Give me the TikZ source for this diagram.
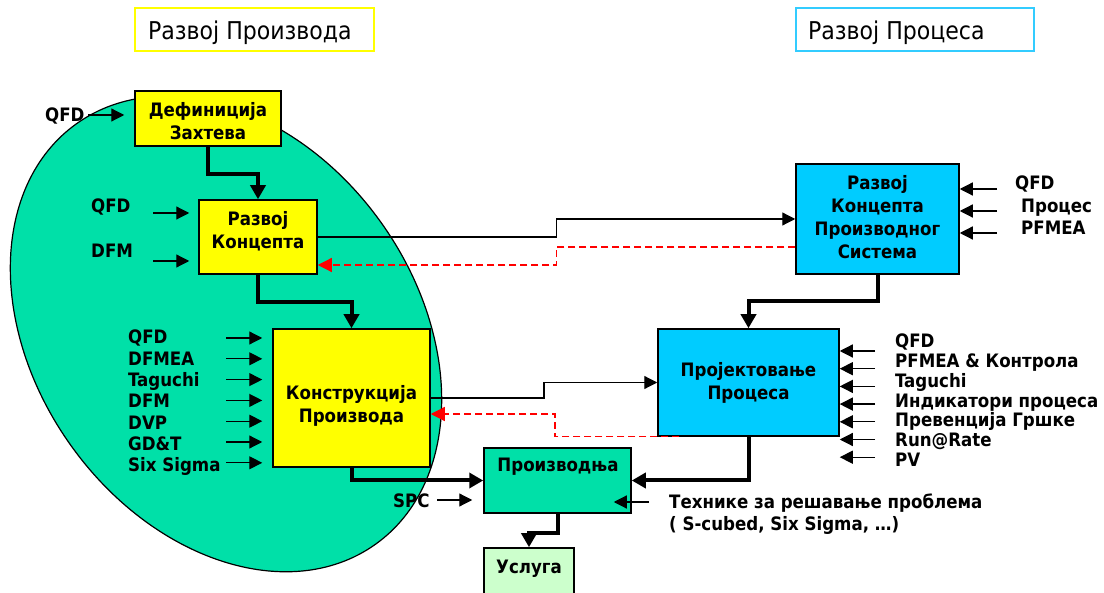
\documentclass[tikz,border=0pt]{standalone}
\usepackage{fontspec}
\setmainfont{DejaVu Sans Condensed}
\usetikzlibrary{arrows.meta,calc}
\definecolor{boxyellow}{RGB}{255,255,0}
\definecolor{procblue}{RGB}{0,204,255}
\definecolor{titleblue}{RGB}{51,204,255}
\definecolor{prodgreen}{RGB}{0,224,168}
\definecolor{servgreen}{RGB}{204,255,204}
\definecolor{dashred}{RGB}{255,0,0}

\begin{document}
\begin{tikzpicture}[x=1pt,y=-1pt,
  lbl/.style={font=\fontsize{18.5}{22}\selectfont\bfseries, inner sep=0pt, anchor=base west},
  boxtxt/.style={font=\fontsize{18.5}{23}\selectfont\bfseries, align=center, inner sep=0pt},
  titletxt/.style={font=\fontsize{24.5}{28}\selectfont, inner sep=0pt, anchor=base west},
  stage/.style={draw=black, line width=1.5pt, inner sep=0pt},
  titlebox/.style={line width=1.5pt, fill=white, inner sep=0pt, minimum height=43pt},
  thickarrow/.style={line width=4pt, -{Triangle[length=14pt,width=15pt]}},
  conn/.style={line width=1.2pt, -{Triangle[length=13pt,width=13pt]}},
  inarrow/.style={line width=1.2pt, -{Triangle[length=13pt,width=13pt]}},
  feedback/.style={draw=dashred, line width=1.2pt, dash pattern=on 7pt off 4pt,
    -{Triangle[length=14pt,width=14pt]}},
]
\useasboundingbox (0,0) rectangle (1104,593);
\clip (0,0) rectangle (1104,593);
\fill[white] (0,0) rectangle (1104,593);

% product development zone
\draw[fill=prodgreen, line width=1.2pt, rotate around={-54.7:(226,334)}]
  (226,334) ellipse [x radius=258pt, y radius=191pt];

% headings
\node[titlebox, draw=boxyellow, minimum width=239pt] (t1) at (254.5,29.5) {};
\node[titletxt] (t1t) at (148,40) {Развој Производа};
\node[titlebox, draw=titleblue, minimum width=238pt] (t2) at (915,29.5) {};
\node[titletxt] (t2t) at (808,40) {Развој Процеса};

% stage boxes
\node[stage, fill=boxyellow, minimum width=146pt, minimum height=55pt] (def) at (208,118.5) {};
\node[stage, fill=boxyellow, minimum width=118pt, minimum height=74pt] (rk) at (258,237) {};
\node[stage, fill=boxyellow, minimum width=157pt, minimum height=138pt] (kon) at (351.5,398) {};
\node[stage, fill=prodgreen, minimum width=147pt, minimum height=65pt] (pro) at (557.5,480.5) {};
\node[stage, fill=servgreen, minimum width=90pt, minimum height=62pt] (usl) at (529,579) {};
\node[stage, fill=procblue, minimum width=163pt, minimum height=110pt] (rkps) at (877.5,219) {};
\node[stage, fill=procblue, minimum width=181pt, minimum height=107pt] (proj) at (748.5,382.5) {};

\node[boxtxt] (deft) at (208,121) {Дефиниција\\Захтева};
\node[boxtxt] (rkt) at (258,231.5) {Развој\\Концепта};
\node[boxtxt] (kont) at (351.5,405.5) {Конструкција\\Производа};
\node[boxtxt] (rkpst) at (877.5,217.5) {Развој\\Концепта\\Производног\\Система};
\node[boxtxt] (projt) at (748.5,382.5) {Пројектовање\\Процеса};
\node[boxtxt] (prot) at (558,467) {Производња};
\node[boxtxt] (uslt) at (529,569) {Услуга};

% main flow
\draw[thickarrow] (def.south) -- ++(0,27) -| (rk.north);
\draw[thickarrow] (rk.south) -- ++(0,27) -| (kon.north);
\draw[thickarrow] (kon.south) |- (pro.west);
\draw[thickarrow] (rkps.south) -- ++(0,26) -| (proj.north);
\draw[thickarrow] (proj.south) |- (pro.east);
\draw[thickarrow] (pro.south) -- ++(0,19) -| (usl.north);

% links between product and process development
\draw[conn] (rk.east) -| ($(rk.east)!0.5!(rkps.west)$) |- (rkps.west);
\coordinate (rkin) at ($(rk.east)+(0,28)$);
\coordinate (rkpsout) at ($(rkps.west)+(0,28)$);
\draw[feedback] (rkpsout) -| ($(rkin)!0.5!(rkpsout)$) |- (rkin);

\draw[conn] (kon.east) -| ($(kon.east)!0.5!(proj.west)$) |- (proj.west);
\coordinate (konin) at ($(kon.east)+(0,16)$);
\coordinate (projout) at ($(proj.south west)+(22,0)$);
\draw[feedback] (projout) -| ($(konin)!0.5!(projout)$) |- (konin);

% inputs: requirements definition
\node[lbl] (q0) at (45,122) {QFD};
\coordinate (q0a) at (88,115);
\draw[inarrow] (q0a) -- ($(q0a -| def.west)+(-10,0)$);

% inputs: concept development
\node[lbl] (q1) at (91,213) {QFD};
\node[lbl] (d1) at (91,258) {DFM};
\coordinate (q1a) at (153,213);
\coordinate (d1a) at (153,261);
\draw[inarrow] (q1a) -- ($(q1a -| rk.west)+(-9,0)$);
\draw[inarrow] (d1a) -- ($(d1a -| rk.west)+(-9,0)$);

% inputs: product design
\foreach \t [count=\i] in {QFD, DFMEA, Taguchi, DFM, DVP, GD\&T, Six Sigma} {
  \node[lbl] (kl\i) at (128,{344+21.3*(\i-1)}) {\t};
  \coordinate (ka\i) at (226,{338+20.8*(\i-1)});
  \draw[inarrow] (ka\i) -- ($(ka\i -| kon.west)+(-10,0)$);
}

% inputs: production system concept
\node[lbl] (rl1) at (1015,190) {QFD};
\node[lbl] (rl2) at (1021,213) {Процес};
\node[lbl] (rl3) at (1021,235) {PFMEA};
\foreach \i/\y in {1/189, 2/211, 3/233} {
  \coordinate (ra\i) at (997,\y);
  \draw[inarrow] (ra\i) -- (ra\i -| rkps.east);
}

% inputs: process design
\foreach \t [count=\i] in {QFD, PFMEA \& Контрола, Taguchi, Индикатори процеса,
    Превенција Гршке, Run@Rate, PV} {
  \node[lbl] (pl\i) at (895,{348+19.7*(\i-1)}) {\t};
  \coordinate (pa\i) at (875,{351+17.7*(\i-1)});
  \draw[inarrow] (pa\i) -- (pa\i -| proj.east);
}

% inputs: production
\node[lbl] (spc) at (393,508) {SPC};
\coordinate (spca) at (437,500);
\draw[inarrow] (spca) -- ($(spca -| pro.west)+(-11,0)$);

\node[lbl, align=left, font=\fontsize{18.5}{22}\selectfont\bfseries] (tech) at (669,531)
  {Технике за решавање проблема\\( S-cubed, Six Sigma, …)};
\coordinate (techa) at (649,502);
\draw[inarrow] (techa) -- ($(techa -| pro.east)+(-18,0)$);
\end{tikzpicture}
\end{document}
